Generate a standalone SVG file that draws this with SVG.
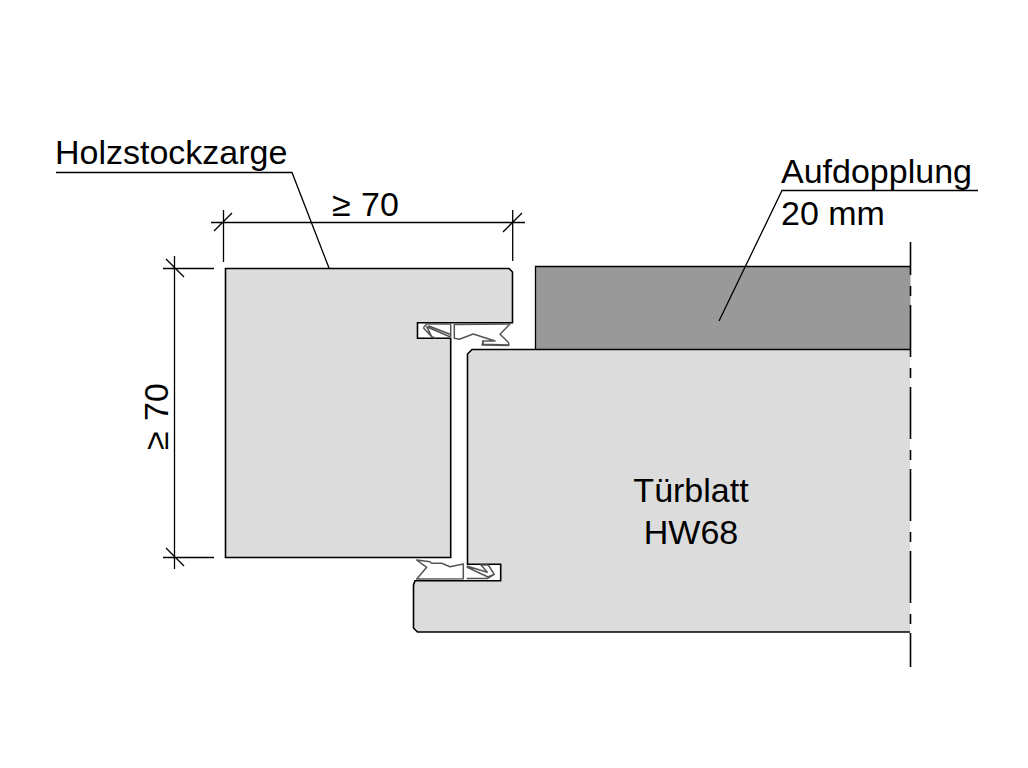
<svg xmlns="http://www.w3.org/2000/svg" width="1028" height="768" viewBox="0 0 1028 768">
<style>
.t{font-family:"Liberation Sans",Arial,sans-serif;font-size:34px;fill:#000}
.p{fill:#dcdcdc;stroke:#000;stroke-width:1.6;stroke-linejoin:miter}
.l{fill:none;stroke:#000;stroke-width:1.3}
.s{fill:none;stroke:#555;stroke-width:1.5;stroke-linejoin:round}
</style>
<rect width="1028" height="768" fill="#fff"/>
<g id="aufdopplung">
<path d="M535.5 349.5V266.5H910.5V349.5Z" fill="#999" stroke="none"/>
<path class="l" d="M910.5 266.5H535.5V349.5"/>
<text class="t" x="781" y="183">Aufdopplung</text>
<text class="t" x="781" y="225">20 mm</text>
<path class="l" d="M978 190.5H782L719 321"/>
</g>
<g id="holzstockzarge">
<path class="p" d="M225.5 268.5H509L512.5 272V322.7H417.5V338.3H450.7V557.5H225.5Z"/>
<text class="t" x="55" y="164">Holzstockzarge</text>
<path class="l" d="M56 172.5H292L329 268"/>
</g>
<g id="tuerblatt">
<path d="M910 349.5H472L467.5 354V564.3H500.7V580.7H415L413.5 585V628L417.5 632H910Z" fill="#dcdcdc"/>
<path class="l" style="stroke-width:1.6" d="M910 349.5H472L467.5 354V564.3H500.7V580.7H415L413.5 585V628L417.5 632H910"/>
<text class="t" x="691" y="502" text-anchor="middle">Türblatt</text>
<text class="t" x="691" y="544" text-anchor="middle">HW68</text>
</g>
<g id="dichtung-oben">
<path class="s" d="M423.3 327.7L426.7 324H450.7V337M428.3 325.7L450 334.3M450 336.7L426.7 326.7L431.7 336.7L436 338.3M423.3 327.7L431.7 336.7"/>
<path class="s" d="M454.3 324.5L510 324L500 334.3L508.3 342.3L509 345L483.3 344.3L482.7 341L495 341L473.3 334L459.3 339.3L454.3 338.3Z"/>
<path class="s" d="M483.3 341.5L482 345L509 345.5"/>
</g>
<g id="dichtung-unten">
<path class="s" d="M416.7 560L426.7 567.3L416.7 579L463.3 578.7V564L450 566.7L441.7 563.3H431.7L430 561.7Z"/>
<path class="s" d="M466.7 567L488 577L494.3 574.3L488.3 565H481L487.3 572.3L466.7 566M466.7 578.5H487.3L494.3 574.3"/>
</g>
<g id="connectors">
<path class="l" d="M211 222.5H525M223.5 210V262M214 231L232 213M512.7 210V261M503 232L522 213"/>
<path class="l" d="M163 268.5H214M163 557.5H214M174.5 256V569M166 259L184 277M166 548L184 566"/>
<text class="t" x="332" y="216" style="word-spacing:1px">≥ 70</text>
<text class="t" transform="translate(168 450) rotate(-90)" style="word-spacing:1px">≥ 70</text>
<path d="M910.5 242V667" fill="none" stroke="#000" stroke-width="1.6" stroke-dasharray="52 11 10 9" stroke-dashoffset="19"/>
</g>
</svg>
